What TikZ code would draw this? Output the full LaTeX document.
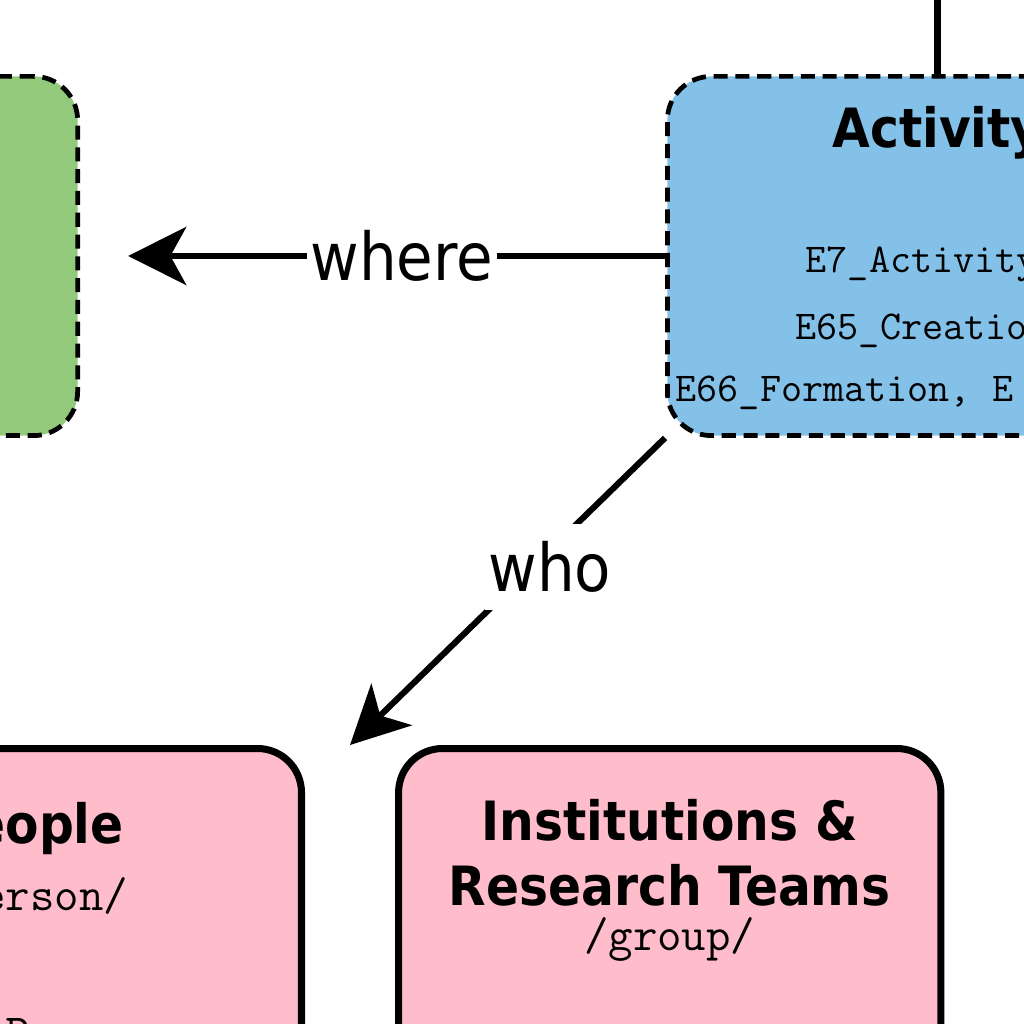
\documentclass[tikz,border=0pt]{standalone}
\usepackage{fontspec}
\newfontfamily\condfont{DejaVu Sans Condensed}[BoldFont={DejaVu Sans Condensed Bold}]
\usepackage{xcolor}
\definecolor{placegreen}{RGB}{147,201,122}
\definecolor{actblue}{RGB}{131,193,233}
\definecolor{agentpink}{RGB}{255,188,202}
\usetikzlibrary{
  arrows.meta,
  positioning,
  calc
}
\tikzset{
  dashbox/.style={draw, rounded corners=12.5pt, line width=1.35pt,
    dash pattern=on 4pt off 2.2pt,
    minimum width=5.4cm, minimum height=3.59cm},
  agentbox/.style={draw, rounded corners=12.5pt, line width=2pt,
    fill=agentpink, minimum width=5.42cm, minimum height=4cm},
  titletext/.style={inner sep=0pt, anchor=base,
    font=\condfont\bfseries\fontsize{15.4pt}{18pt}\selectfont},
  classtext/.style={inner sep=0pt, anchor=base west,
    font=\ttfamily\fontsize{11.65pt}{14pt}\selectfont},
  tagtext/.style={inner sep=0pt, anchor=base,
    font=\ttfamily\fontsize{13.5pt}{16pt}\selectfont},
  arr/.style={-{Stealth[length=16.5pt, width=16.5pt, inset=4.5pt]}, line width=1.75pt},
  edgelabel/.style={fill=white, inner xsep=1pt, inner ysep=5pt,
    font=\condfont\fontsize{18.8pt}{22pt}\selectfont},
}
\newcommand{\ttus}{\_}

\begin{document}
\begin{tikzpicture}[x=0.01cm, y=-0.01cm]
  \useasboundingbox (0,0) rectangle (1024,1024);
  \clip (0,0) rectangle (1024,1024);

  % Activity
  \node[dashbox, fill=actblue, anchor=north west] (activity) at (665,74) {};
  \node[titletext] (acttitle) at ([yshift=-0.73cm]activity.north) {Activity};
  \node[classtext] (actE7) at (805,272) {E7\ttus Activity};
  \node[classtext] (actE65) at (795,339) {E65\ttus Creation};
  \node[classtext] (actE66) at (675,401) {E66\ttus Formation, E};

  % Place
  \node[dashbox, fill=placegreen, anchor=north east] (place) at (80,74) {};

  % People
  \node[agentbox, anchor=north east] (people) at (305,745) {};
  \node[titletext] (peopletitle) at ([yshift=-0.98cm]people.north) {People};
  \node[tagtext] (persontag) at ([yshift=-1.65cm]people.north) {/person/};
  \node[tagtext] (personclass) at ([yshift=-3.02cm]people.north) {E21\ttus Person};

  % Institutions
  \node[agentbox, right=0.9cm of people] (inst) {};
  \node[titletext] (insttitle) at ([yshift=-0.95cm]inst.north) {Institutions \&};
  \node[titletext] (insttitleb) at ([yshift=-1.60cm]inst.north) {Research Teams};
  \node[tagtext] (grouptag) at ([yshift=-2.05cm]inst.north) {/group/};

  % Arrows
  \coordinate (up) at (935,-20);
  \coordinate (agents) at ($(people.north east)!0.5!(inst.north west)$);
  \draw[line width=2pt] (activity.north) -- (activity.north |- up);
  \draw[arr, shorten >=13.7pt] (activity.west) -- (place.east)
    node[edgelabel, pos=0.45] {where};
  \draw[arr] (activity.south west) -- (agents)
    node[edgelabel, pos=0.42, xshift=0.17cm] {who};
\end{tikzpicture}
\end{document}
